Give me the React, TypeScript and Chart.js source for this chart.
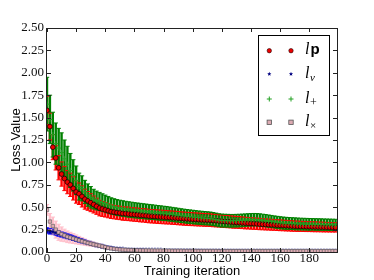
import React, { useEffect, useRef } from 'react';
import { Chart, registerables } from 'chart.js';
Chart.register(...registerables);

// iterations sampled every 2 steps (0..198)
const iterations: number[] = Array.from({ length: 100 }, (_, k) => 2 * k);

const lpMean = [
  1.58, 1.40, 1.17, 1.05, 0.94, 0.87, 0.82, 0.78, 0.75, 0.71,
  0.67, 0.65, 0.62, 0.59, 0.57, 0.55, 0.53, 0.51, 0.49, 0.48,
  0.47, 0.46, 0.45, 0.445, 0.44, 0.436, 0.43, 0.428, 0.425, 0.421,
  0.418, 0.415, 0.411, 0.409, 0.405, 0.401, 0.399, 0.397, 0.394, 0.392,
  0.39, 0.388, 0.386, 0.383, 0.381, 0.378, 0.375, 0.372, 0.37, 0.368,
  0.366, 0.364, 0.362, 0.36, 0.358, 0.357, 0.355, 0.352, 0.35, 0.347,
  0.344, 0.341, 0.339, 0.336, 0.333, 0.331, 0.329, 0.326, 0.323, 0.321,
  0.319, 0.317, 0.315, 0.312, 0.31, 0.308, 0.306, 0.304, 0.302, 0.3,
  0.298, 0.296, 0.294, 0.292, 0.29, 0.288, 0.287, 0.286, 0.285, 0.284,
  0.283, 0.282, 0.281, 0.28, 0.279, 0.278, 0.277, 0.276, 0.276, 0.275,
];
const lpErr = [
  0.16, 0.15, 0.14, 0.135, 0.135, 0.135, 0.135, 0.13, 0.13, 0.13,
  0.125, 0.12, 0.118, 0.112, 0.105, 0.1, 0.095, 0.09, 0.087, 0.083,
  0.08, 0.078, 0.076, 0.075, 0.075, 0.075, 0.075, 0.075, 0.075, 0.075,
  0.075, 0.075, 0.075, 0.075, 0.075, 0.075, 0.075, 0.075, 0.075, 0.075,
  0.075, 0.075, 0.074, 0.074, 0.074, 0.074, 0.073, 0.073, 0.073, 0.073,
  0.072, 0.072, 0.072, 0.071, 0.071, 0.071, 0.07, 0.07, 0.07, 0.069,
  0.069, 0.068, 0.068, 0.067, 0.067, 0.066, 0.066, 0.065, 0.065, 0.064,
  0.064, 0.064, 0.063, 0.063, 0.062, 0.062, 0.061, 0.061, 0.06, 0.06,
  0.06, 0.059, 0.059, 0.058, 0.058, 0.057, 0.057, 0.056, 0.056, 0.056,
  0.055, 0.055, 0.055, 0.054, 0.054, 0.054, 0.053, 0.053, 0.053, 0.053,
];

const lvMean = [
  0.24, 0.23, 0.225, 0.215, 0.205, 0.195, 0.185, 0.175, 0.165, 0.155,
  0.145, 0.135, 0.125, 0.115, 0.105, 0.095, 0.085, 0.077, 0.069, 0.062,
  0.055, 0.049, 0.044, 0.039, 0.035, 0.032, 0.029, 0.027, 0.025, 0.024,
  0.023, 0.022, 0.021, 0.02, 0.019, 0.019, 0.018, 0.018, 0.017, 0.017,
  0.016, 0.016, 0.016, 0.015, 0.015, 0.015, 0.014, 0.014, 0.014, 0.014,
  0.013, 0.013, 0.013, 0.013, 0.012, 0.012, 0.012, 0.012, 0.012, 0.012,
  0.011, 0.011, 0.011, 0.011, 0.011, 0.011, 0.011, 0.01, 0.01, 0.01,
  0.01, 0.01, 0.01, 0.01, 0.01, 0.01, 0.01, 0.01, 0.01, 0.01,
  0.01, 0.01, 0.009, 0.009, 0.009, 0.009, 0.009, 0.009, 0.009, 0.009,
  0.009, 0.009, 0.009, 0.009, 0.009, 0.009, 0.009, 0.009, 0.009, 0.009,
];
const lvErr = [
  0.03, 0.03, 0.03, 0.029, 0.029, 0.028, 0.028, 0.027, 0.027, 0.026,
  0.025, 0.024, 0.023, 0.022, 0.021, 0.02, 0.019, 0.018, 0.017, 0.016,
  0.015, 0.014, 0.013, 0.012, 0.012, 0.011, 0.011, 0.01, 0.01, 0.01,
  0.01, 0.01, 0.01, 0.01, 0.009, 0.009, 0.009, 0.009, 0.009, 0.009,
  0.008, 0.008, 0.008, 0.008, 0.008, 0.008, 0.008, 0.008, 0.008, 0.008,
  0.008, 0.008, 0.008, 0.007, 0.007, 0.007, 0.007, 0.007, 0.007, 0.007,
  0.007, 0.007, 0.007, 0.007, 0.007, 0.007, 0.007, 0.007, 0.007, 0.007,
  0.006, 0.006, 0.006, 0.006, 0.006, 0.006, 0.006, 0.006, 0.006, 0.006,
  0.006, 0.006, 0.006, 0.006, 0.006, 0.006, 0.006, 0.006, 0.006, 0.006,
  0.006, 0.006, 0.006, 0.006, 0.006, 0.006, 0.006, 0.006, 0.006, 0.006,
];

const lplusMean = [
  1.65, 1.48, 1.31, 1.21, 1.16, 1.11, 1.04, 0.98, 0.91, 0.855,
  0.8, 0.73, 0.71, 0.67, 0.635, 0.61, 0.59, 0.575, 0.565, 0.553,
  0.541, 0.528, 0.515, 0.506, 0.497, 0.491, 0.485, 0.48, 0.475, 0.471,
  0.466, 0.463, 0.459, 0.456, 0.452, 0.449, 0.445, 0.442, 0.438, 0.435,
  0.431, 0.429, 0.424, 0.42, 0.415, 0.411, 0.406, 0.402, 0.398, 0.395,
  0.391, 0.387, 0.384, 0.381, 0.378, 0.376, 0.373, 0.368, 0.362, 0.355,
  0.351, 0.35, 0.349, 0.348, 0.349, 0.35, 0.351, 0.353, 0.356, 0.358,
  0.36, 0.361, 0.361, 0.358, 0.354, 0.35, 0.345, 0.341, 0.336, 0.331,
  0.327, 0.323, 0.32, 0.319, 0.317, 0.315, 0.313, 0.312, 0.311, 0.31,
  0.309, 0.309, 0.308, 0.307, 0.306, 0.306, 0.305, 0.304, 0.303, 0.302,
];
const lplusErr = [
  0.3, 0.27, 0.25, 0.23, 0.22, 0.22, 0.21, 0.2, 0.19, 0.175,
  0.16, 0.15, 0.14, 0.13, 0.125, 0.12, 0.11, 0.105, 0.1, 0.097,
  0.094, 0.092, 0.09, 0.089, 0.088, 0.087, 0.087, 0.086, 0.086, 0.085,
  0.085, 0.084, 0.084, 0.083, 0.083, 0.082, 0.082, 0.081, 0.081, 0.08,
  0.08, 0.079, 0.079, 0.078, 0.078, 0.077, 0.077, 0.076, 0.076, 0.075,
  0.075, 0.075, 0.074, 0.074, 0.074, 0.073, 0.073, 0.073, 0.072, 0.072,
  0.072, 0.071, 0.071, 0.071, 0.07, 0.07, 0.07, 0.07, 0.069, 0.069,
  0.069, 0.069, 0.068, 0.068, 0.068, 0.068, 0.068, 0.067, 0.067, 0.067,
  0.067, 0.067, 0.067, 0.066, 0.066, 0.066, 0.066, 0.065, 0.065, 0.065,
  0.065, 0.064, 0.064, 0.064, 0.064, 0.063, 0.063, 0.063, 0.063, 0.063,
];

const lxMean = [
  0.47, 0.34, 0.29, 0.25, 0.22, 0.2, 0.185, 0.17, 0.16, 0.15,
  0.14, 0.13, 0.12, 0.11, 0.1, 0.092, 0.085, 0.078, 0.07, 0.062,
  0.054, 0.046, 0.04, 0.035, 0.031, 0.028, 0.026, 0.024, 0.022, 0.021,
  0.02, 0.019, 0.018, 0.017, 0.017, 0.016, 0.016, 0.015, 0.015, 0.015,
  0.014, 0.014, 0.014, 0.013, 0.013, 0.013, 0.013, 0.012, 0.012, 0.012,
  0.012, 0.012, 0.011, 0.011, 0.011, 0.011, 0.011, 0.011, 0.011, 0.01,
  0.01, 0.01, 0.01, 0.01, 0.01, 0.01, 0.01, 0.01, 0.01, 0.01,
  0.01, 0.01, 0.01, 0.01, 0.01, 0.01, 0.01, 0.01, 0.01, 0.01,
  0.01, 0.01, 0.01, 0.01, 0.01, 0.01, 0.01, 0.01, 0.01, 0.01,
  0.01, 0.01, 0.01, 0.01, 0.01, 0.01, 0.01, 0.01, 0.01, 0.01,
];
const lxErr = [
  0.06, 0.09, 0.1, 0.095, 0.09, 0.08, 0.07, 0.065, 0.06, 0.055,
  0.05, 0.045, 0.04, 0.035, 0.03, 0.027, 0.024, 0.021, 0.018, 0.016,
  0.014, 0.012, 0.011, 0.01, 0.009, 0.009, 0.008, 0.008, 0.008, 0.007,
  0.007, 0.007, 0.007, 0.007, 0.007, 0.006, 0.006, 0.006, 0.006, 0.006,
  0.006, 0.006, 0.006, 0.006, 0.006, 0.006, 0.006, 0.006, 0.006, 0.006,
  0.005, 0.005, 0.005, 0.005, 0.005, 0.005, 0.005, 0.005, 0.005, 0.005,
  0.005, 0.005, 0.005, 0.005, 0.005, 0.005, 0.005, 0.005, 0.005, 0.005,
  0.005, 0.005, 0.005, 0.005, 0.005, 0.005, 0.005, 0.005, 0.005, 0.005,
  0.005, 0.005, 0.005, 0.005, 0.005, 0.005, 0.005, 0.005, 0.005, 0.005,
  0.005, 0.005, 0.005, 0.005, 0.005, 0.005, 0.005, 0.005, 0.005, 0.005,
];

const xTickValues = [0, 20, 40, 60, 80, 100, 120, 140, 160, 180];
const xTitle = 'Training iteration';
const yTitle = 'Loss Value';

type Series = {
  key: string;
  mean: number[];
  err: number[];
  barColor: string;
  marker: 'circle' | 'star' | 'plus' | 'square';
  fill: string;
  edge: string;
};

const SERIES: Series[] = [
  { key: 'p', mean: lpMean, err: lpErr, barColor: '#ff0000', marker: 'circle', fill: '#ee0000', edge: '#200000' },
  { key: 'v', mean: lvMean, err: lvErr, barColor: '#0000ff', marker: 'star', fill: '#000080', edge: '#000060' },
  { key: '+', mean: lplusMean, err: lplusErr, barColor: '#008000', marker: 'plus', fill: '#22a022', edge: '#1a8a1a' },
  { key: 'x', mean: lxMean, err: lxErr, barColor: '#ffc0cb', marker: 'square', fill: '#dcaab2', edge: '#555555' },
];

function makeStar(size: number, color: string): HTMLCanvasElement {
  const c = document.createElement('canvas');
  c.width = size;
  c.height = size;
  const g = c.getContext('2d')!;
  drawMarker(g, 'star', size / 2, size / 2, size / 2, color, color);
  return c;
}

function drawMarker(g: CanvasRenderingContext2D, m: string, x: number, y: number, r: number, fill: string, edge: string) {
  g.save();
  if (m === 'circle') {
    g.beginPath();
    g.arc(x, y, r, 0, Math.PI * 2);
    g.fillStyle = fill;
    g.fill();
    g.lineWidth = 0.6;
    g.strokeStyle = edge;
    g.stroke();
  } else if (m === 'star') {
    g.beginPath();
    for (let k = 0; k < 10; k++) {
      const rr = k % 2 === 0 ? r : r * 0.45;
      const a = -Math.PI / 2 + (k * Math.PI) / 5;
      const px = x + rr * Math.cos(a);
      const py = y + rr * Math.sin(a);
      if (k === 0) g.moveTo(px, py);
      else g.lineTo(px, py);
    }
    g.closePath();
    g.fillStyle = fill;
    g.fill();
  } else if (m === 'plus') {
    g.beginPath();
    g.moveTo(x - r, y);
    g.lineTo(x + r, y);
    g.moveTo(x, y - r);
    g.lineTo(x, y + r);
    g.strokeStyle = fill;
    g.lineWidth = 1;
    g.stroke();
  } else {
    g.fillStyle = fill;
    g.fillRect(x - r, y - r, 2 * r, 2 * r);
    g.lineWidth = 0.8;
    g.strokeStyle = edge;
    g.strokeRect(x - r, y - r, 2 * r, 2 * r);
  }
  g.restore();
}

const framePlugin = {
  id: 'mplFrame',
  beforeDatasetsDraw(chart: any) {
    const { ctx, chartArea, scales } = chart;
    const xs = scales.x;
    const ys = scales.y;
    ctx.save();
    ctx.beginPath();
    ctx.rect(chartArea.left, chartArea.top, chartArea.right - chartArea.left, chartArea.bottom - chartArea.top);
    ctx.clip();
    for (const s of SERIES) {
      ctx.strokeStyle = s.barColor;
      ctx.lineWidth = 2.4;
      ctx.beginPath();
      for (let i = 0; i < iterations.length; i++) {
        const px = xs.getPixelForValue(iterations[i]);
        ctx.moveTo(px, ys.getPixelForValue(s.mean[i] - s.err[i]));
        ctx.lineTo(px, ys.getPixelForValue(s.mean[i] + s.err[i]));
      }
      ctx.stroke();
    }
    for (const s of SERIES) {
      ctx.strokeStyle = s.barColor;
      ctx.lineWidth = 1;
      ctx.beginPath();
      for (let i = 0; i < iterations.length; i++) {
        const px = xs.getPixelForValue(iterations[i]);
        for (const v of [s.mean[i] - s.err[i], s.mean[i] + s.err[i]]) {
          const py = ys.getPixelForValue(v);
          ctx.moveTo(px - 2.2, py);
          ctx.lineTo(px + 2.2, py);
        }
      }
      ctx.stroke();
    }
    ctx.restore();
  },
  afterDraw(chart: any) {
    const { ctx, chartArea, scales } = chart;
    const { left, right, top, bottom } = chartArea;
    const xs = scales.x;
    const ys = scales.y;
    ctx.save();
    ctx.strokeStyle = '#222';
    ctx.lineWidth = 1;
    ctx.strokeRect(Math.round(left) - 0.5, Math.round(top) + 0.5, Math.round(right - left) + 1, Math.round(bottom - top));
    ctx.beginPath();
    for (const t of xs.ticks) {
      const px = Math.round(xs.getPixelForValue(t.value)) + 0.5;
      ctx.moveTo(px, bottom);
      ctx.lineTo(px, bottom - 4);
      ctx.moveTo(px, top);
      ctx.lineTo(px, top + 4);
    }
    for (const t of ys.ticks) {
      const py = Math.round(ys.getPixelForValue(t.value)) + 0.5;
      ctx.moveTo(left, py);
      ctx.lineTo(left + 4, py);
      ctx.moveTo(right, py);
      ctx.lineTo(right - 4, py);
    }
    ctx.stroke();

    ctx.fillStyle = '#000';
    ctx.font = '13px "Liberation Sans", Arial, sans-serif';
    ctx.textAlign = 'center';
    ctx.textBaseline = 'alphabetic';
    ctx.fillText(xTitle, (left + right) / 2, 275);
    ctx.save();
    ctx.translate(20, (top + bottom) / 2);
    ctx.rotate(-Math.PI / 2);
    ctx.fillText(yTitle, 0, 0);
    ctx.restore();

    const bx = 258.5, by = 35.5, bw = 71, bh = 100;
    ctx.fillStyle = '#fff';
    ctx.fillRect(bx, by, bw, bh);
    ctx.strokeStyle = '#000';
    ctx.lineWidth = 1;
    ctx.strokeRect(bx, by, bw, bh);
    const rowsY = [50.7, 74, 99, 122.3];
    SERIES.forEach((s, k) => {
      const cy = rowsY[k];
      const r = s.marker === 'plus' ? 2.5 : 2.2;
      drawMarker(ctx, s.marker, 269.3, cy, r, s.fill, s.edge);
      drawMarker(ctx, s.marker, 291, cy, r, s.fill, s.edge);
      const base = cy + 3.6;
      ctx.fillStyle = '#000';
      ctx.textAlign = 'left';
      ctx.font = 'italic 16px "Liberation Serif", serif';
      ctx.fillText('l', 305, base);
      const lw = ctx.measureText('l').width;
      if (s.key === 'p') {
        ctx.font = 'bold 15px "Liberation Sans", sans-serif';
        ctx.fillText('p', 305 + lw + 1, base);
      } else if (s.key === 'v') {
        ctx.font = 'italic 11px "Liberation Serif", serif';
        ctx.fillText('v', 305 + lw + 0.5, base + 3);
      } else if (s.key === '+') {
        ctx.font = '12px "Liberation Serif", serif';
        ctx.fillText('+', 305 + lw + 0.5, base + 3);
      } else {
        ctx.font = '11px "Liberation Serif", serif';
        ctx.fillText('\u00d7', 305 + lw + 0.5, base + 3);
      }
    });
    ctx.restore();
  },
};

export default function App() {
  const ref = useRef<HTMLCanvasElement>(null);
  useEffect(() => {
    document.body.style.margin = '0';
    const star = makeStar(6, '#000080');
    const datasets = SERIES.map((s, idx) => ({
      label: s.key,
      data: iterations.map((x, i) => ({ x, y: s.mean[i] })),
      showLine: false,
      order: SERIES.length - idx,
      pointStyle: s.marker === 'circle' ? 'circle' : s.marker === 'star' ? star : s.marker === 'plus' ? 'cross' : 'rect',
      pointRadius: s.marker === 'plus' ? 2.6 : 2.4,
      pointBackgroundColor: s.fill,
      pointBorderColor: s.marker === 'plus' ? s.fill : s.edge,
      pointBorderWidth: s.marker === 'plus' ? 1 : s.marker === 'circle' ? 0.8 : 0.6,
    }));
    const tickFont = { family: '"Liberation Serif", "Times New Roman", serif', size: 13 };
    const chart = new Chart(ref.current!, {
      type: 'scatter',
      data: { datasets: datasets as any },
      plugins: [framePlugin as any],
      options: {
        responsive: false,
        animation: false,
        devicePixelRatio: 1,
        layout: { padding: { top: 28, right: 37, left: 0, bottom: 0 } },
        plugins: { legend: { display: false }, tooltip: { enabled: false } },
        scales: {
          x: {
            type: 'linear',
            min: 0,
            max: 199,
            grid: { display: false, drawTicks: false },
            border: { display: false },
            ticks: { stepSize: 20, font: tickFont, color: '#111', padding: -1, maxRotation: 0, autoSkip: false },
            afterBuildTicks: (s: any) => {
              s.ticks = xTickValues.map((v) => ({ value: v }));
            },
            afterFit: (s: any) => {
              s.height = 28;
            },
          },
          y: {
            type: 'linear',
            min: 0,
            max: 2.5,
            grid: { display: false, drawTicks: false },
            border: { display: false },
            ticks: {
              stepSize: 0.25,
              font: tickFont,
              color: '#111',
              padding: 3,
              callback: (v: any) => Number(v).toFixed(2),
            },
            afterFit: (s: any) => {
              s.width = 47;
            },
          },
        },
      },
    });
    return () => chart.destroy();
  }, []);
  return (
    <div style={{ position: 'fixed', left: 0, top: 0, width: 374, height: 280, background: '#fff' }}>
      <canvas ref={ref} width={374} height={280} style={{ width: 374, height: 280, display: 'block' }} />
    </div>
  );
}
